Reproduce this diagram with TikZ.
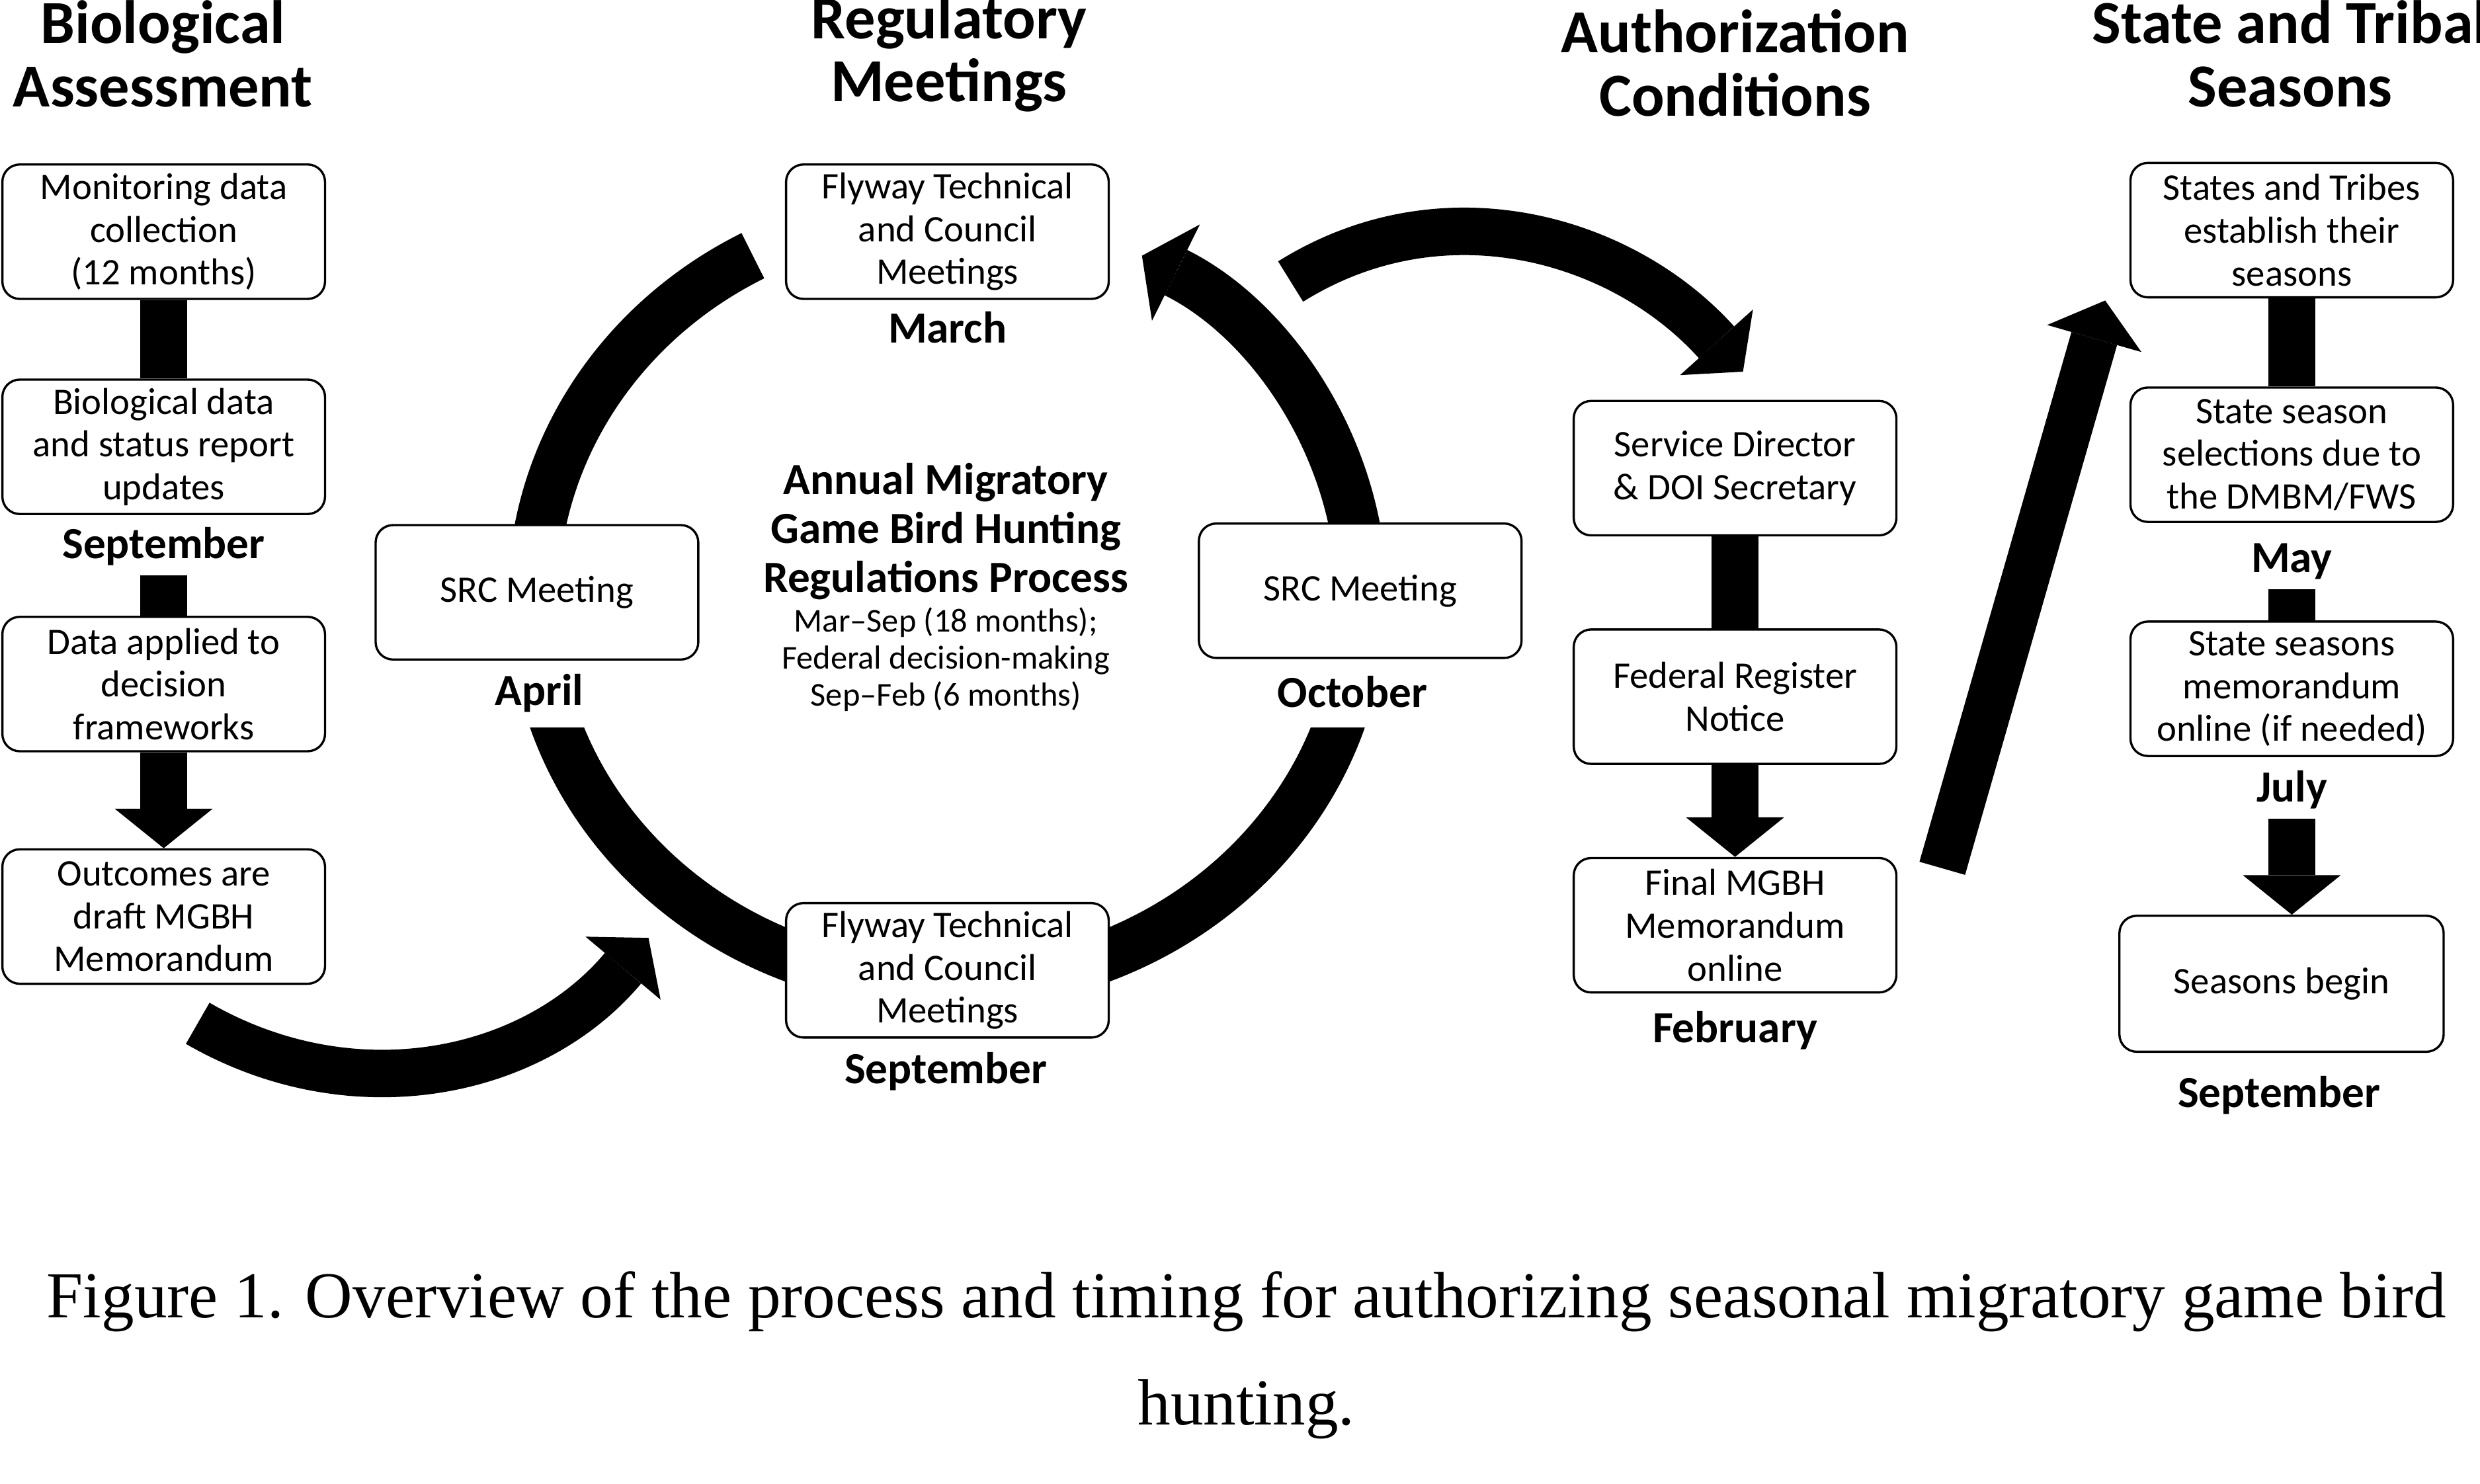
\documentclass[tikz,border=0pt]{standalone}
\usepackage{fontspec}
\setmainfont{Liberation Serif}
\newfontfamily\diagfont{Carlito}
\usetikzlibrary{arrows.meta}

\newcommand{\boxfont}{\diagfont\fontsize{13.5}{15.4}\selectfont}
\newcommand{\monthfont}{\diagfont\bfseries\fontsize{16}{18}\selectfont}
\newcommand{\headfont}{\diagfont\bfseries\fontsize{22}{22.8}\selectfont}
\newcommand{\cycletitlefont}{\diagfont\bfseries\fontsize{16}{17.6}\selectfont}
\newcommand{\notefont}{\diagfont\fontsize{12}{13.4}\selectfont}
\newcommand{\capfont}{\fontsize{23.6}{38.6}\selectfont}

\begin{document}
\begin{tikzpicture}[x=0.2mm, y=-0.2mm,
    stage/.style={draw, line width=0.8pt, rounded corners=0.22cm, fill=white,
        minimum width=4.08cm, minimum height=1.7cm, inner sep=0pt,
        align=center, font=\boxfont},
    month/.style={font=\monthfont, anchor=base},
    header/.style={font=\headfont, align=center},
    bar/.style={line width=0.6cm},
    bigarrow/.style={line width=0.6cm,
        -{Triangle[width=1.24cm, length=0.5cm, line width=0pt]}},
    ring/.style={line width=0.64cm}]

        \useasboundingbox (0,0) rectangle (1568,938);

        % cycle ring
        \coordinate (ctr) at (599,378);
        \draw[ring] (ctr) ++(185:262 and 245)
            arc[start angle=185, end angle=242, x radius=262, y radius=245];
        \begin{scope}
            \clip (0,460) rectangle (1568,938);
            \draw[ring] (ctr) ++(165:262 and 245)
                arc[start angle=165, end angle=100, x radius=262, y radius=245];
            \draw[ring] (ctr) ++(80:262 and 245)
                arc[start angle=80, end angle=15, x radius=262, y radius=245];
        \end{scope}
        \draw[ring, -{Triangle[width=1.36cm, length=0.48cm, line width=0pt]}]
            (ctr) ++(-5:262 and 245)
            arc[start angle=-5, end angle=-62, x radius=262, y radius=245];

        % Biological Assessment
        \node[header] (hBA) at (103,34) {Biological\\Assessment};
        \node[stage] (BA1) at (103.5,146.5) {Monitoring data\\collection\\(12 months)};
        \node[stage] (BA2) at (103.5,282.5) {Biological data\\and status report\\updates};
        \node[month] (mBA) at (103.5,353) {September};
        \node[stage] (BA3) at (103.5,432.5) {Data applied to\\decision\\frameworks};
        \node[stage] (BA4) at (103.5,579.5) {Outcomes are\\draft MGBH\\Memorandum};

        % Regulatory Meetings
        \node[header] (hRM) at (600,34) {Regulatory\\Meetings};
        \node[stage] (RM1) at (599,146.5) {Flyway Technical\\and Council\\Meetings};
        \node[month] (mRM1) at (599,217) {March};
        \node[stage] (RM2) at (339.5,374.5) {SRC Meeting};
        \node[month] (mRM2) at (341,446) {April};
        \node[stage] (RM3) at (860,373.5) {SRC Meeting};
        \node[month] (mRM3) at (855,447) {October};
        \node[stage] (RM4) at (599,613.5) {Flyway Technical\\and Council\\Meetings};
        \node[month] (mRM4) at (598,685) {September};
        \node[font=\cycletitlefont, align=center] (AM) at (598,336)
            {Annual Migratory\\Game Bird Hunting\\Regulations Process};
        \node[font=\notefont, align=center] (AMn) at (598,417)
            {Mar–Sep (18 months);\\Federal decision-making\\Sep–Feb (6 months)};

        % Authorization Conditions
        \node[header] (hAC) at (1097,40) {Authorization\\Conditions};
        \node[stage] (AC1) at (1097,296) {Service Director\\\& DOI Secretary};
        \node[stage] (AC2) at (1097,440.5) {Federal Register\\Notice};
        \node[stage] (AC3) at (1097,585) {Final MGBH\\Memorandum\\online};
        \node[month] (mAC) at (1097,659) {February};

        % State and Tribal Seasons
        \node[header] (hST) at (1448,34) {State and Tribal\\Seasons};
        \node[stage] (ST1) at (1449,145.5) {States and Tribes\\establish their\\seasons};
        \node[stage] (ST2) at (1449,287.5) {State season\\selections due to\\the DMBM/FWS};
        \node[month] (mST1) at (1449,362) {May};
        \node[stage] (ST3) at (1449,435.5) {State seasons\\memorandum\\online (if needed)};
        \node[month] (mST2) at (1449,507) {July};
        \node[stage, minimum width=4.1cm, minimum height=1.72cm] (ST4) at (1442.5,622) {Seasons begin};
        \node[month] (mST3) at (1441,700) {September};

        % caption
        \node[font=\capfont, align=center] (cap) at (788,857)
            {Figure 1. Overview of the process and timing for authorizing seasonal migratory game bird\\hunting.};

        % column connectors
        \draw[bar] (BA1) -- (BA2);
        \draw[bar] (mBA) -- (BA3);
        \draw[bigarrow] (BA3) -- (BA4);
        %
        \draw[bar] (AC1) -- (AC2);
        \draw[bigarrow] (AC2) -- (AC3);
        %
        \draw[bar] (ST1) -- (ST2);
        \draw[bar] (mST1) -- (ST3);
        \draw[bigarrow] (mST2) -- (mST2 |- ST4.north);

        % arrows between stages
        \coordinate (oa) at (125,647);
        \coordinate (ob) at (410,593);
        \draw[bigarrow] (oa) to[out=-30, in=230] (ob);
        \coordinate (ta) at (816,178);
        \coordinate (tb) at (1102,235);
        \draw[bigarrow] (ta) to[out=32, in=132] (tb);
        \coordinate (da) at (1228,549);
        \coordinate (db) at (1331,190);
        \draw[bigarrow] (da) -- (db);
    \end{tikzpicture}
\end{document}
